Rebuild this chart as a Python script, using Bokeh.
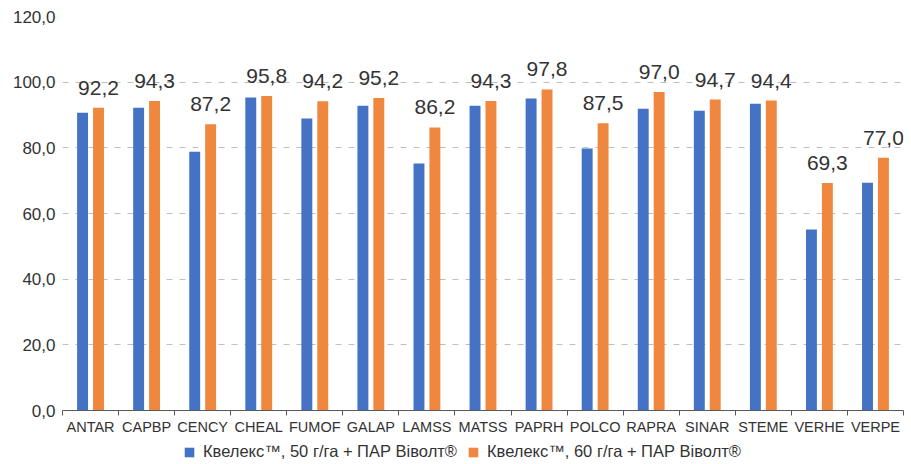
from bokeh.plotting import figure
from bokeh.layouts import column
from bokeh.models import (Range1d, LinearAxis, FixedTicker, ColumnDataSource, Legend, LegendItem)
from bokeh.transform import dodge
from bokeh.embed import file_html
from bokeh.resources import INLINE
from bokeh.core.properties import value

categories = ["ANTAR", "CAPBP", "CENCY", "CHEAL", "FUMOF", "GALAP", "LAMSS", "MATSS",
              "PAPRH", "POLCO", "RAPRA", "SINAR", "STEME", "VERHE", "VERPE"]
series_50 = [90.7, 92.2, 78.8, 95.3, 88.9, 92.8, 75.2, 92.8, 95.0, 79.8, 91.9, 91.3, 93.4, 55.1, 69.4]
series_60 = [92.2, 94.3, 87.2, 95.8, 94.2, 95.2, 86.2, 94.3, 97.8, 87.5, 97.0, 94.7, 94.4, 69.3, 77.0]
series_names = ["Квелекс™, 50 г/га + ПАР Віволт®", "Квелекс™, 60 г/га + ПАР Віволт®"]
y_ticks = [0, 20, 40, 60, 80, 100, 120]

FONT = "Liberation Sans"
BLUE = "#4472C4"
ORANGE = "#F0873F"
TXT = "#333333"

n = len(categories)
centers = [i + 0.5 for i in range(n)]
labels = [f"{v:.1f}".replace(".", ",") for v in series_60]
src = ColumnDataSource(dict(xc=centers, a=series_50, b=series_60, lab=labels))

p = figure(x_range=Range1d(0, n), y_range=Range1d(0, 120),
           frame_width=841, frame_height=394,
           output_backend="svg", toolbar_location=None, x_axis_location=None,
           min_border_left=62, min_border_right=8, min_border_top=16, min_border_bottom=30,
           outline_line_color=None)

# y axis
yax = p.yaxis[0]
yax.ticker = FixedTicker(ticks=y_ticks)
yax.major_label_overrides = {t: f"{t:.1f}".replace(".", ",") for t in y_ticks}
yax.axis_line_color = None
yax.major_tick_line_color = None
yax.minor_tick_line_color = None
yax.major_tick_out = 0
yax.major_label_standoff = 7
yax.major_label_text_font = FONT
yax.major_label_text_font_size = "17px"
yax.major_label_text_color = TXT

p.xgrid.grid_line_color = None
p.ygrid.ticker = FixedTicker(ticks=y_ticks)
p.ygrid.grid_line_color = "#BFBFBF"
p.ygrid.grid_line_dash = "6 7"
p.ygrid.grid_line_width = 1

# axis with ticks at category boundaries
edge_axis = LinearAxis(ticker=FixedTicker(ticks=list(range(n + 1))),
                       major_label_overrides={i: "" for i in range(n + 1)},
                       major_label_text_font_size="1px", major_label_standoff=0,
                       major_tick_in=0, major_tick_out=5, minor_tick_line_color=None,
                       axis_line_color="#595959", major_tick_line_color="#595959")
p.add_layout(edge_axis, "below")

# category label axis
cat_axis = LinearAxis(ticker=FixedTicker(ticks=centers),
                      major_label_overrides={c: name for c, name in zip(centers, categories)},
                      axis_line_color=None, major_tick_line_color=None, minor_tick_line_color=None,
                      major_tick_out=0, major_tick_in=0, major_label_standoff=3,
                      major_label_text_font=FONT, major_label_text_font_size="14.5px",
                      major_label_text_color=TXT)
p.add_layout(cat_axis, "below")

p.vbar(x=dodge("xc", -0.142), top="a", width=0.195, source=src,
       fill_color=BLUE, line_color=None)
p.vbar(x=dodge("xc", 0.142), top="b", width=0.195, source=src,
       fill_color=ORANGE, line_color=None)

p.text(x=dodge("xc", 0.142), y="b", text="lab", source=src,
       text_align="center", text_baseline="alphabetic", y_offset=-20,
       text_font=value(FONT), text_font_size="21px", text_color=TXT)

# legend strip below the chart (legend proxies are hidden renderers)
lg = figure(width=911, height=24, x_range=Range1d(0, n), y_range=Range1d(0, 1),
            output_backend="svg", toolbar_location=None,
            x_axis_location=None, y_axis_location=None, outline_line_color=None,
            min_border_left=0, min_border_right=0, min_border_top=0, min_border_bottom=0)
lg.xgrid.grid_line_color = None
lg.ygrid.grid_line_color = None
g1 = lg.vbar(x=dodge("xc", -0.142), top="a", bottom="a", width=0.195, source=src,
             fill_color=BLUE, line_color=None, visible=False)
g2 = lg.vbar(x=dodge("xc", 0.142), top="b", bottom="b", width=0.195, source=src,
             fill_color=ORANGE, line_color=None, visible=False)
legend = Legend(items=[LegendItem(label=series_names[0], renderers=[g1]),
                       LegendItem(label=series_names[1], renderers=[g2])],
                orientation="horizontal", location=(121, 3),
                label_text_font=FONT, label_text_font_size="16.5px", label_text_color=TXT,
                glyph_width=12, glyph_height=12, label_standoff=8, spacing=10,
                label_height=16, padding=0, margin=0, border_line_color=None,
                background_fill_alpha=0, inactive_fill_alpha=0)
lg.add_layout(legend, "center")

layout = column(p, lg, spacing=0)
open("out.html", "w").write(file_html(layout, INLINE))
